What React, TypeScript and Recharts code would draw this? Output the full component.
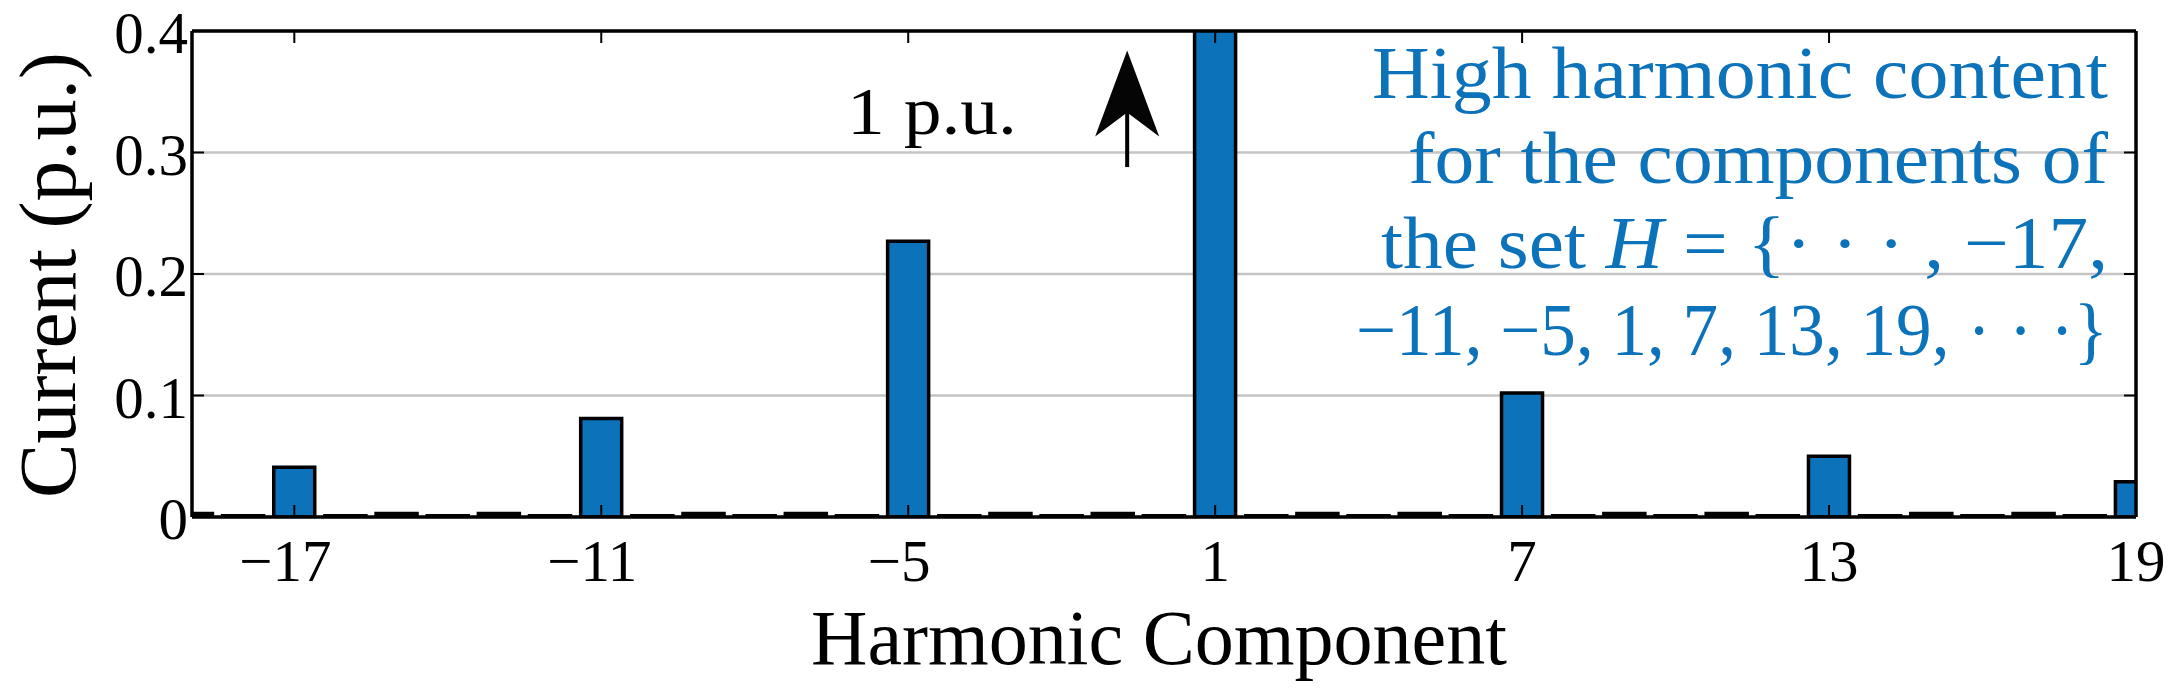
import React from "react";
import { BarChart, Bar, XAxis, YAxis, CartesianGrid, ReferenceLine } from "recharts";

// harmonic order and current magnitude (p.u.)
const harmonics = [
  -19, -18, -17, -16, -15, -14, -13, -12, -11, -10, -9, -8, -7, -6, -5, -4, -3, -2, -1, 0,
  1, 2, 3, 4, 5, 6, 7, 8, 9, 10, 11, 12, 13, 14, 15, 16, 17, 18, 19,
];
const currents = [
  0.0028, 0.001, 0.041, 0.001, 0.0028, 0.001, 0.0028, 0.001, 0.081, 0.001, 0.0028, 0.001, 0.0028, 0.001, 0.227, 0.001, 0.0028, 0.001, 0.0028, 0.001,
  1.0, 0.001, 0.0028, 0.001, 0.0028, 0.001, 0.102, 0.001, 0.0028, 0.001, 0.0028, 0.001, 0.05, 0.001, 0.0028, 0.001, 0.0028, 0.001, 0.029,
];
const xTicks = [-17, -11, -5, 1, 7, 13, 19];
const yTicks = [0, 0.1, 0.2, 0.3, 0.4];

// arrow annotation pointing to the clipped fundamental
const arrowX = -0.72;
const arrowFrom = 0.288;
const arrowTo = 0.384;

const noteLines = [
  "High harmonic content",
  "for the components of",
  "the set ",
  "\u221211, \u22125, 1, 7, 13, 19, \u00b7 \u00b7 \u00b7}",
];

const data = harmonics.map((h, i) => ({ h, value: currents[i] }));

const BLUE = "#0C72BA";
const FONT = "'Liberation Serif', 'Times New Roman', serif";

const fmtY = (v: number) => (v === 0 ? "0" : v.toFixed(1));
const fmtX = (v: number) => (v < 0 ? `\u2212${Math.abs(v)}` : `${v}`);

const BottomTick = (props: any) => {
  const { x, y, payload } = props;
  const neg = payload.value < 0;
  return (
    <g>
      <line x1={x} y1={y} x2={x} y2={y - 12} stroke="#000" strokeWidth={2} />
      <text x={x - (neg ? 9 : 0)} y={y + 64} textAnchor="middle" fontSize={59} fontFamily={FONT} fill="#000">
        {fmtX(payload.value)}
      </text>
    </g>
  );
};

const TopTick = (props: any) => {
  const { x, y } = props;
  return <line x1={x} y1={y} x2={x} y2={y + 12} stroke="#000" strokeWidth={2} />;
};

const LeftTick = (props: any) => {
  const { x, y, payload } = props;
  return (
    <g>
      <line x1={x} y1={y} x2={x + 12} y2={y} stroke="#000" strokeWidth={2} />
      <text x={x - 4} y={y + 22} textAnchor="end" fontSize={59} fontFamily={FONT} fill="#000">
        {fmtY(payload.value)}
      </text>
    </g>
  );
};

const RightTick = (props: any) => {
  const { x, y } = props;
  return <line x1={x} y1={y} x2={x - 12} y2={y} stroke="#000" strokeWidth={2} />;
};

const Arrow = (props: any) => {
  const { x1, y1, x2, y2 } = props;
  const x = (x1 + x2) / 2;
  const tip = Math.min(y1, y2);
  const tail = Math.max(y1, y2);
  return (
    <g>
      <line x1={x} y1={tail} x2={x} y2={tip + 60} stroke="#000" strokeWidth={4} />
      <path
        d={`M ${x} ${tip} L ${x + 32} ${tip + 86} L ${x} ${tip + 62} L ${x - 32} ${tip + 86} Z`}
        fill="#050505"
      />
    </g>
  );
};

export default function App() {
  return (
    <div style={{ position: "absolute", left: 0, top: 0, width: 2180, height: 690, background: "#fff" }}>
      <BarChart
        width={2180}
        height={690}
        data={data}
        margin={{ top: 30, right: 43, bottom: 0, left: 0 }}
        barCategoryGap={0}
      >
        <CartesianGrid vertical={false} stroke="#c4c4c4" strokeWidth={2.5} />
        <XAxis
          dataKey="h"
          type="number"
          domain={[-19, 19]}
          ticks={xTicks}
          allowDataOverflow
          height={173}
          tickSize={0}
          tickMargin={0}
          tickLine={false}
          axisLine={{ stroke: "#000", strokeWidth: 3 }}
          tick={<BottomTick />}
          interval={0}
        />
        <XAxis
          xAxisId="top"
          dataKey="h"
          type="number"
          orientation="top"
          domain={[-19, 19]}
          ticks={xTicks}
          allowDataOverflow
          height={1}
          tickSize={0}
          tickMargin={0}
          tickLine={false}
          axisLine={{ stroke: "#000", strokeWidth: 3 }}
          tick={<TopTick />}
          interval={0}
        />
        <YAxis
          domain={[0, 0.4]}
          ticks={yTicks}
          allowDataOverflow
          width={192}
          tickSize={0}
          tickMargin={0}
          tickLine={false}
          axisLine={{ stroke: "#000", strokeWidth: 3 }}
          tick={<LeftTick />}
          interval={0}
        />
        <YAxis
          yAxisId="right"
          orientation="right"
          domain={[0, 0.4]}
          ticks={yTicks}
          allowDataOverflow
          width={1}
          tickSize={0}
          tickMargin={0}
          tickLine={false}
          axisLine={{ stroke: "#000", strokeWidth: 3 }}
          tick={<RightTick />}
          interval={0}
        />
        <Bar
          dataKey="value"
          fill={BLUE}
          stroke="#000"
          strokeWidth={3.5}
          barSize={41}
          isAnimationActive={false}
        />
        <ReferenceLine y={0.4} stroke="#000" strokeWidth={3} />
        <ReferenceLine x={-19} stroke="#000" strokeWidth={3} />
        <ReferenceLine x={19} stroke="#000" strokeWidth={3} />
        <ReferenceLine y={0} stroke="#000" strokeWidth={3} />
        <ReferenceLine
          segment={[
            { x: arrowX, y: arrowFrom },
            { x: arrowX, y: arrowTo },
          ]}
          shape={<Arrow />}
        />
      </BarChart>
      <svg
        width={2180}
        height={690}
        style={{ position: "absolute", left: 0, top: 0, pointerEvents: "none" }}
        fontFamily={FONT}
      >
        <text
          x={75}
          y={275}
          transform="rotate(-90 75 275)"
          textAnchor="middle"
          fontSize={80}
          textLength={446}
          lengthAdjust="spacingAndGlyphs"
          fill="#000"
        >
          Current (p.u.)
        </text>
        <text x={1159} y={664} textAnchor="middle" fontSize={78} textLength={696} lengthAdjust="spacingAndGlyphs" fill="#000">
          Harmonic Component
        </text>
        <text x={847} y={134} fontSize={68} textLength={170} lengthAdjust="spacingAndGlyphs" fill="#000">
          1 p.u.
        </text>
        <g fill={BLUE} fontSize={74} textAnchor="end">
          <text x={2108} y={98} textLength={736} lengthAdjust="spacingAndGlyphs">
            {noteLines[0]}
          </text>
          <text x={2108} y={183} textLength={700} lengthAdjust="spacingAndGlyphs">
            {noteLines[1]}
          </text>
          <text x={2108} y={268} textLength={727} lengthAdjust="spacingAndGlyphs">
            {noteLines[2]}
            <tspan fontStyle="italic">H</tspan>
            {" = {\u00b7 \u00b7 \u00b7 , \u221217,"}
          </text>
          <text x={2108} y={355} textLength={752} lengthAdjust="spacingAndGlyphs">
            {noteLines[3]}
          </text>
        </g>
      </svg>
    </div>
  );
}
